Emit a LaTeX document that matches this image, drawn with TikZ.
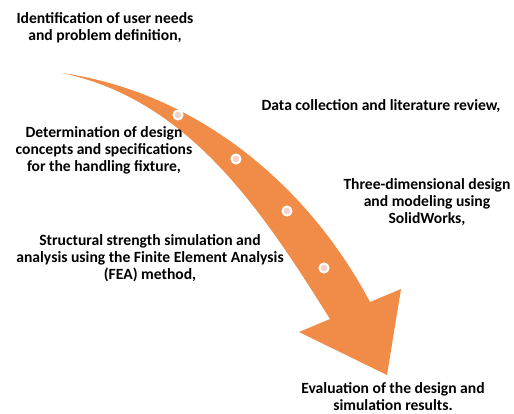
\documentclass[tikz,border=0pt]{standalone}
\usepackage{fontspec}
\setmainfont{Carlito}
\definecolor{arroworange}{RGB}{240,140,72}
\definecolor{dotpink}{RGB}{245,208,198}
\begin{document}
\begin{tikzpicture}[x=1pt,y=-1pt,
  lbl/.style={align=center,inner sep=0pt,font=\fontsize{15.6}{17}\selectfont\bfseries},
  stepdot/.style={circle,draw=white,line width=2pt,fill=dotpink,minimum size=9pt,inner sep=0pt}]
\useasboundingbox (0,0) rectangle (514,414);
% arrow
\coordinate (tail) at (62,73);
\coordinate (outerend) at (370,302);
\coordinate (barbR) at (401,289);
\coordinate (tip) at (387,375);
\coordinate (barbL) at (299,332);
\coordinate (innerend) at (330,319);
\fill[arroworange] (tail) .. controls (195,92) and (307,183) .. (outerend)
  -- (barbR) -- (tip) -- (barbL) -- (innerend)
  .. controls (261,209) and (189,100) .. (tail) -- cycle;
% dots
\node[stepdot] (d1) at (178,115) {};
\node[stepdot] (d2) at (236,159) {};
\node[stepdot] (d3) at (287,211) {};
\node[stepdot] (d4) at (324,268) {};
% labels
\node[lbl] (t1) at (105,27.5) {Identification of user needs\\and problem definition,};
\node[lbl] (t2) at (381,106) {Data collection and literature review,};
\node[lbl] (t3) at (104,150) {Determination of design\\concepts and specifications\\for the handling fixture,};
\node[lbl] (t4) at (427,202) {Three-dimensional design\\and modeling using\\SolidWorks,};
\node[lbl] (t5) at (150,258) {Structural strength simulation and\\analysis using the Finite Element Analysis\\(FEA) method,};
\node[lbl] (t6) at (393,397) {Evaluation of the design and\\simulation results.};
\end{tikzpicture}
\end{document}
